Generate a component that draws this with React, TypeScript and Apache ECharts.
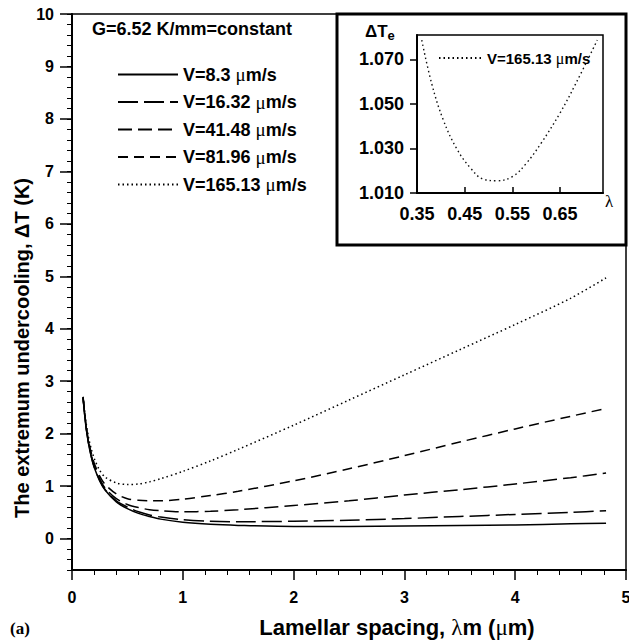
import React, { useEffect, useRef } from "react";
import * as echarts from "echarts";

// ---- data ----
const lambdaM = [0.1, 0.125, 0.15, 0.175, 0.2, 0.25, 0.3, 0.4, 0.5, 0.6, 0.7, 0.8, 1.0, 1.25, 1.5, 2.0, 2.5, 3.0, 3.5, 4.0, 4.5, 4.82];
const dT_v8_3 = [2.68, 2.15, 1.8, 1.55, 1.36, 1.1, 0.92, 0.7, 0.57, 0.48, 0.42, 0.37, 0.31, 0.27, 0.25, 0.23, 0.23, 0.24, 0.25, 0.26, 0.28, 0.29];
const dT_v16_32 = [2.68, 2.15, 1.81, 1.56, 1.37, 1.11, 0.93, 0.72, 0.6, 0.51, 0.45, 0.41, 0.36, 0.33, 0.32, 0.33, 0.35, 0.38, 0.42, 0.46, 0.5, 0.53];
const dT_v41_48 = [2.69, 2.17, 1.82, 1.58, 1.39, 1.14, 0.96, 0.76, 0.65, 0.59, 0.55, 0.53, 0.51, 0.52, 0.55, 0.63, 0.72, 0.83, 0.93, 1.04, 1.16, 1.25];
const dT_v81_96 = [2.7, 2.19, 1.86, 1.62, 1.44, 1.19, 1.03, 0.85, 0.76, 0.73, 0.72, 0.72, 0.75, 0.82, 0.9, 1.1, 1.33, 1.58, 1.84, 2.09, 2.33, 2.48];
const dT_v165_13 = [2.7, 2.24, 1.92, 1.7, 1.53, 1.3, 1.17, 1.06, 1.03, 1.04, 1.08, 1.14, 1.28, 1.48, 1.7, 2.16, 2.64, 3.12, 3.6, 4.08, 4.58, 4.97];

const seriesNames = ["V=8.3 μm/s", "V=16.32 μm/s", "V=41.48 μm/s", "V=81.96 μm/s", "V=165.13 μm/s"];

const insetLambda = [0.36, 0.381, 0.4055, 0.433, 0.461, 0.489, 0.517, 0.551, 0.579, 0.61, 0.649, 0.683, 0.728];
const insetDT = [1.0787, 1.059, 1.0426, 1.03, 1.0215, 1.0162, 1.0155, 1.0175, 1.0233, 1.0323, 1.0456, 1.0592, 1.0787];

const FONT = "'Liberation Sans', Arial, Helvetica, sans-serif";
const SERIF = "'Liberation Serif', 'Times New Roman', serif";

export default function App() {
  const ref = useRef<HTMLDivElement>(null);

  useEffect(() => {
    if (!ref.current) return;
    const chart = echarts.init(ref.current, null, { renderer: "svg" });

    const curves = [dT_v8_3, dT_v16_32, dT_v41_48, dT_v81_96, dT_v165_13];
    const dashTypes: any[] = ["solid", [20, 6], [14, 6], [10, 6], [1.5, 3]];

    const mainSeries = curves.map((ys, i) => ({
      type: "line",
      name: seriesNames[i],
      xAxisIndex: 0,
      yAxisIndex: 0,
      data: lambdaM.map((x, j) => [x, ys[j]]),
      symbol: "none",
      showSymbol: false,
      smooth: 0.3,
      lineStyle: { color: "#000", width: 1.5, type: dashTypes[i] },
      itemStyle: { color: "#000" },
      z: 3,
    }));

    const insetSeries = {
      type: "line",
      name: seriesNames[4],
      xAxisIndex: 1,
      yAxisIndex: 2,
      data: insetLambda.map((x, j) => [x, insetDT[j]]),
      symbol: "none",
      showSymbol: false,
      smooth: 0.4,
      lineStyle: { color: "#111", width: 1.4, type: [1.5, 3] },
      itemStyle: { color: "#000" },
    };

    const hiddenSymbol = { color: "rgba(0,0,0,0)", opacity: 0, borderWidth: 0 };

    const option: any = {
      animation: false,
      backgroundColor: "#fff",
      textStyle: { fontFamily: FONT, color: "#000" },
      grid: [
        { left: 72, right: 3, top: 14, bottom: 72, show: true, borderColor: "#000", borderWidth: 1.5, containLabel: false, outerBoundsMode: "none" },
        { left: 417, right: 26, top: 35, bottom: 449, show: true, borderColor: "#000", borderWidth: 1.5, containLabel: false, outerBoundsMode: "none" },
      ],
      xAxis: [
        {
          gridIndex: 0,
          type: "value",
          min: 0,
          max: 5,
          interval: 1,
          axisLine: { show: true, onZero: false, lineStyle: { color: "#000", width: 2 } },
          axisTick: { show: true, length: 10, lineStyle: { color: "#000", width: 1.5 } },
          minorTick: { show: true, splitNumber: 5, length: 5, lineStyle: { color: "#000", width: 1 } },
          axisLabel: { fontSize: 16, fontWeight: "bold", fontFamily: FONT, color: "#000", margin: 19 },
          splitLine: { show: false },
        },
        {
          gridIndex: 1,
          type: "value",
          min: 0.35,
          max: 0.74,
          interval: 0.1,
          axisLine: { show: true, onZero: false, lineStyle: { color: "#000", width: 2 } },
          axisTick: { show: true, inside: true, length: 6, lineStyle: { color: "#000", width: 1.5 } },
          axisLabel: {
            fontSize: 18,
            fontWeight: "bold",
            fontFamily: FONT,
            color: "#000",
            margin: 12,
            showMaxLabel: false,
            formatter: (v: number) => v.toFixed(2),
          },
          splitLine: { show: false },
        },
      ],
      yAxis: [
        {
          gridIndex: 0,
          type: "value",
          min: -0.6,
          max: 10,
          minInterval: 1,
          maxInterval: 1,
          axisLine: { show: true, onZero: false, lineStyle: { color: "#000", width: 2 } },
          axisTick: { show: true, length: 12, lineStyle: { color: "#000", width: 1.5 } },
          axisLabel: { fontSize: 16, fontWeight: "bold", fontFamily: FONT, color: "#000", margin: 18, showMinLabel: false },
          splitLine: { show: false },
        },
        {
          gridIndex: 0,
          type: "value",
          position: "left",
          offset: 0,
          min: -0.6,
          max: 10,
          interval: 0.2,
          axisLine: { show: false },
          axisTick: { show: true, length: 5, lineStyle: { color: "#000", width: 1 } },
          axisLabel: { show: false },
          splitLine: { show: false },
        },
        {
          gridIndex: 1,
          type: "value",
          min: 1.01,
          max: 1.081,
          interval: 0.02,
          axisLine: { show: true, onZero: false, lineStyle: { color: "#000", width: 2 } },
          axisTick: { show: true, length: 7, lineStyle: { color: "#000", width: 1.5 } },
          axisLabel: {
            fontSize: 18,
            fontWeight: "bold",
            fontFamily: FONT,
            color: "#000",
            margin: 13,
            showMaxLabel: false,
            formatter: (v: number) => v.toFixed(3),
          },
          splitLine: { show: false },
        },
      ],
      legend: [
        {
          data: seriesNames,
          orient: "vertical",
          left: 112,
          top: 60,
          itemWidth: 60,
          itemHeight: 16,
          itemGap: 8.5,
          selectedMode: false,
          itemStyle: hiddenSymbol,
          formatter: (n: string) => n.replace("μ", "{mu|μ}"),
          textStyle: {
            fontSize: 18,
            lineHeight: 16,
            fontWeight: "bold",
            fontFamily: FONT,
            color: "#000",
            rich: { mu: { fontFamily: SERIF, fontWeight: "normal", fontSize: 19, lineHeight: 16, color: "#000" } },
          },
        },
        {
          data: [seriesNames[4]],
          orient: "vertical",
          left: 433,
          top: 45,
          itemWidth: 43,
          itemHeight: 14,
          selectedMode: false,
          itemStyle: hiddenSymbol,
          formatter: (n: string) => n.replace("μ", "{mu|μ}"),
          textStyle: {
            fontSize: 15,
            lineHeight: 14,
            fontWeight: "bold",
            fontFamily: FONT,
            color: "#000",
            rich: { mu: { fontFamily: SERIF, fontWeight: "normal", fontSize: 16, lineHeight: 14, color: "#000" } },
          },
        },
      ],
      graphic: [
        {
          type: "rect",
          z: 100,
          shape: { x: 337, y: 14, width: 289, height: 231 },
          style: { fill: "none", stroke: "#000", lineWidth: 3 },
        },
        {
          type: "text",
          z: 100,
          x: 92,
          y: 29,
          style: { text: "G=6.52 K/mm=constant", fontSize: 18, fontWeight: "bold", fontFamily: FONT, fill: "#000", verticalAlign: "middle" },
        },
        {
          type: "text",
          z: 100,
          x: 22,
          y: 348,
          rotation: Math.PI / 2,
          style: {
            text: "The extremum undercooling, ΔT (K)",
            fontSize: 20,
            fontWeight: "bold",
            fontFamily: FONT,
            fill: "#000",
            align: "center",
            verticalAlign: "middle",
          },
        },
        {
          type: "text",
          z: 100,
          x: 397,
          y: 627,
          style: {
            text: "Lamellar spacing, {s|λ}m ({s|μ}m)",
            fontSize: 22,
            fontWeight: "bold",
            fontFamily: FONT,
            fill: "#000",
            align: "center",
            verticalAlign: "middle",
            rich: { s: { fontFamily: SERIF, fontWeight: "normal", fontSize: 23, fill: "#000" } },
          },
        },
        {
          type: "text",
          z: 100,
          x: 10,
          y: 628,
          style: { text: "(a)", fontSize: 17, fontWeight: "bold", fontFamily: SERIF, fill: "#000", verticalAlign: "middle" },
        },
        {
          type: "text",
          z: 100,
          x: 365,
          y: 31,
          style: {
            text: "ΔT{sub|e}",
            fontSize: 17,
            fontWeight: "bold",
            fontFamily: FONT,
            fill: "#000",
            verticalAlign: "middle",
            rich: { sub: { fontSize: 13, fontWeight: "bold", fontFamily: FONT, fill: "#000", padding: [8, 0, 0, 0] } },
          },
        },
        {
          type: "text",
          z: 100,
          x: 605,
          y: 201,
          style: { text: "λ", fontSize: 17, fontFamily: SERIF, fill: "#000", verticalAlign: "middle" },
        },
      ],
      series: [...mainSeries, insetSeries],
    };

    chart.setOption(option);
    return () => chart.dispose();
  }, []);

  return <div ref={ref} style={{ position: "absolute", left: 0, top: 0, width: 629, height: 642 }} />;
}
